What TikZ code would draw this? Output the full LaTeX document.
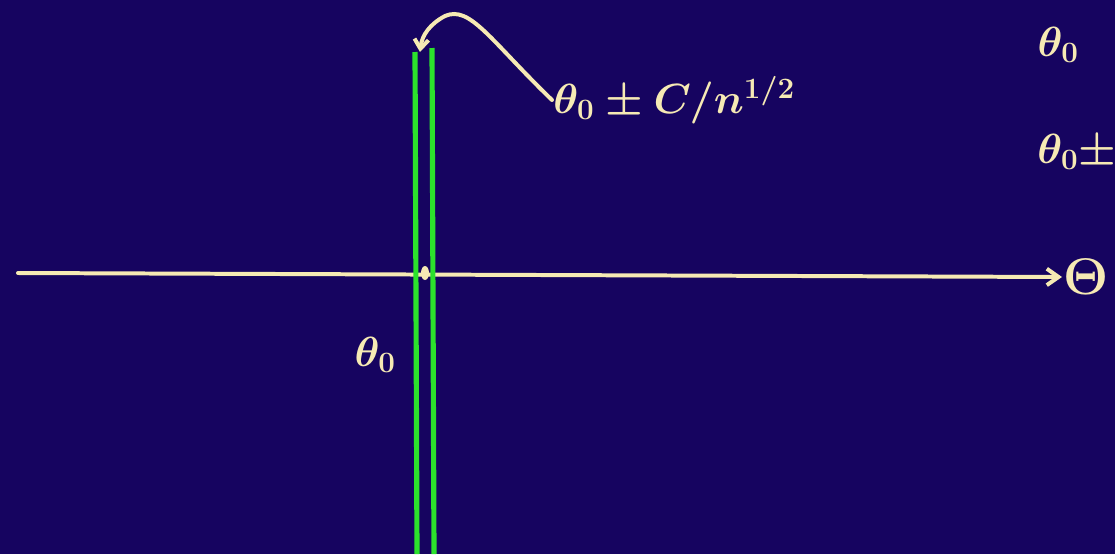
\documentclass[tikz,border=0pt]{standalone}
\usepackage{fix-cm}
\usetikzlibrary{arrows.meta}
\definecolor{board}{RGB}{22,4,96}
\definecolor{chalk}{RGB}{246,234,180}
\definecolor{marker}{RGB}{44,226,44}
\begin{document}
\begin{tikzpicture}[x=0.03cm,y=-0.03cm]
\tikzset{ink/.style={draw=chalk,line width=3.4pt,line cap=round},
         band/.style={draw=marker,line width=4.4pt},
         lbl/.style={text=chalk,font=\fontsize{36}{40}\selectfont\boldmath,inner sep=1pt}}

% board
\fill[board] (0,0) rectangle (1115,554);
\clip (0,0) rectangle (1115,554);

% the parameter axis
\coordinate (axstart) at (18,273);
\node[lbl,anchor=west,font=\fontsize{44}{48}\selectfont\boldmath] (axname) at (1062,277) {$\Theta$};
\draw[ink,-{Straight Barb[length=10pt,width=14pt]}] (axstart) -- (axname.west);

% the two lines close to theta_0
\coordinate (ltop) at (415,52);
\coordinate (lbot) at (417,554);
\coordinate (rtop) at (432,48);
\coordinate (rbot) at (434,554);
\draw[band] (ltop) -- (lbot);
\draw[band] (rtop) -- (rbot);
\fill[chalk] (425,273) ellipse (4 and 7);
\node[lbl] (tzero) at (375,355) {$\theta_0$};

% label and its curved arrow
\node[lbl,anchor=west] (interval) at (552,100) {$\theta_0\pm C/n^{1/2}$};
\draw[ink,-{Straight Barb[length=8pt,width=12pt]}] (interval.west)
    .. controls (490,40) and (470,5) .. (445,16)
    .. controls (430,24) and (422,35) .. (420,52);

% right margin
\node[lbl] (ta) at (1058,45) {$\theta_0$};
\node[lbl,anchor=west] (tb) at (1036,152) {$\theta_0\pm$};
\end{tikzpicture}
\end{document}
